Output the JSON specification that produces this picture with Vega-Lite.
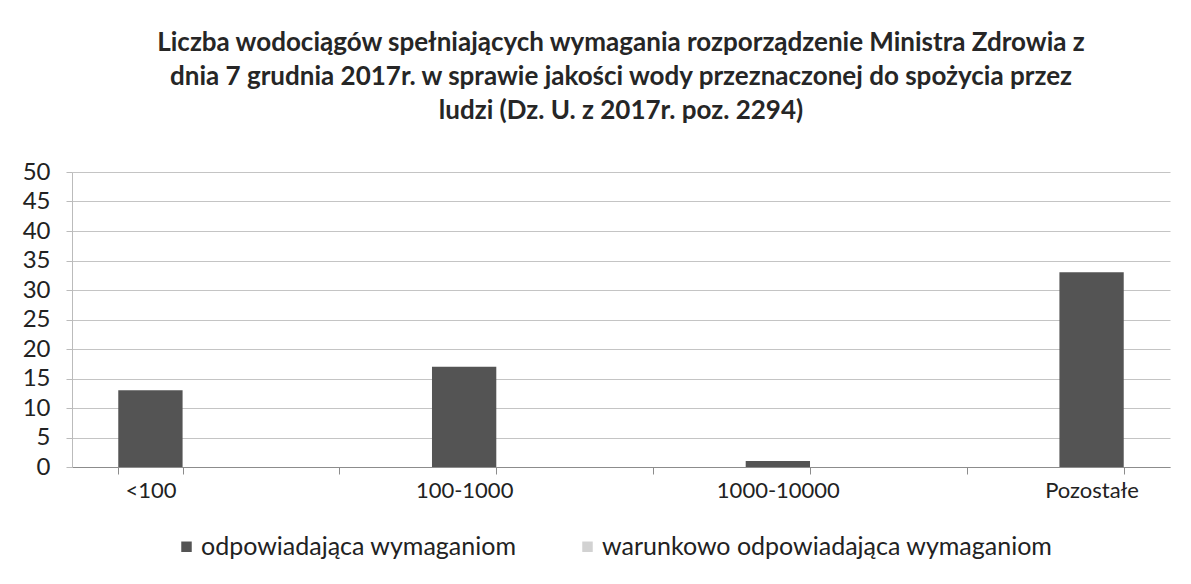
{
  "$schema": "https://vega.github.io/schema/vega-lite/v6.json",
  "autosize": "none",
  "width": 1098,
  "height": 295,
  "padding": {"left": 72, "top": 172, "right": 21, "bottom": 117},
  "background": "white",
  "title": {
    "text": ["Liczba wodociągów spełniających wymagania rozporządzenie Ministra Zdrowia z", "dnia 7 grudnia 2017r. w sprawie jakości wody przeznaczonej do spożycia przez", "ludzi (Dz. U. z 2017r. poz. 2294)"],
    "font": "Lato",
    "fontSize": 26,
    "fontWeight": "bold",
    "color": "#262626",
    "lineHeight": 34,
    "anchor": "middle",
    "offset": 36
  },
  "config": {
    "view": {"stroke": null},
    "font": "Lato"
  },
  "data": {
    "values": [
      {"kategoria": "<100", "seria": "odpowiadająca wymaganiom", "liczba": 13},
      {"kategoria": "gap1", "seria": "warunkowo odpowiadająca wymaganiom", "liczba": 0},
      {"kategoria": "100-1000", "seria": "odpowiadająca wymaganiom", "liczba": 17},
      {"kategoria": "gap2", "seria": "warunkowo odpowiadająca wymaganiom", "liczba": 0},
      {"kategoria": "1000-10000", "seria": "odpowiadająca wymaganiom", "liczba": 1},
      {"kategoria": "gap3", "seria": "warunkowo odpowiadająca wymaganiom", "liczba": 0},
      {"kategoria": "Pozostałe", "seria": "odpowiadająca wymaganiom", "liczba": 33}
    ]
  },
  "mark": {"type": "bar"},
  "encoding": {
    "x": {
      "field": "kategoria",
      "type": "nominal",
      "sort": ["<100", "gap1", "100-1000", "gap2", "1000-10000", "gap3", "Pozostałe"],
      "scale": {"paddingInner": 0.59, "paddingOuter": 0.295},
      "axis": {
        "title": null,
        "labelAngle": 0,
        "labelExpr": "(datum.label == 'gap1' || datum.label == 'gap2' || datum.label == 'gap3') ? '' : datum.label",
        "labelFontSize": 22,
        "labelColor": "#222222",
        "labelPadding": 6,
        "domainColor": "#8c8c8c",
        "tickColor": "#8c8c8c",
        "tickSize": 7,
        "tickBand": "extent",
        "grid": false
      }
    },
    "y": {
      "field": "liczba",
      "type": "quantitative",
      "scale": {"domain": [0, 50], "nice": false},
      "axis": {
        "title": null,
        "values": [0, 5, 10, 15, 20, 25, 30, 35, 40, 45, 50],
        "labelFontSize": 24,
        "labelColor": "#222222",
        "labelPadding": 16,
        "domain": true,
        "domainColor": "#bbbbbb",
        "tickColor": "#bbbbbb",
        "tickSize": 6,
        "gridColor": "#c4c4c4",
        "gridWidth": 1
      }
    },
    "color": {
      "field": "seria",
      "type": "nominal",
      "scale": {
        "domain": ["odpowiadająca wymaganiom", "warunkowo odpowiadająca wymaganiom"],
        "range": ["#545454", "#d2d2d2"]
      },
      "legend": {
        "title": null,
        "orient": "none",
        "direction": "horizontal",
        "legendX": 102,
        "legendY": 362,
        "symbolType": "square",
        "symbolSize": 110,
        "symbolStrokeWidth": 0,
        "labelFontSize": 25,
        "labelColor": "#222222",
        "labelLimit": 700,
        "labelOffset": 2,
        "columnPadding": 58
      }
    }
  }
}
